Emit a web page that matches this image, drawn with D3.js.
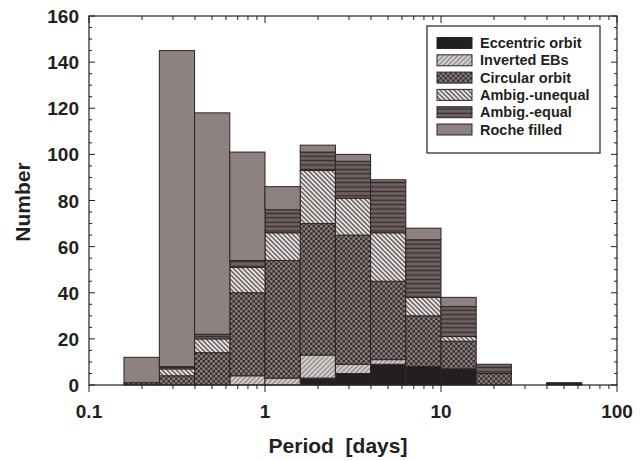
<!DOCTYPE html>
<html>
<head>
<meta charset="utf-8">
<script src="https://cdn.jsdelivr.net/npm/d3@7"></script>
<style>
  body { margin: 0; background: #fff; }
  text { font-family: "Liberation Sans", Arial, Helvetica, sans-serif; font-weight: bold; fill: #231f20; white-space: pre; }
</style>
</head>
<body>
<svg id="chart" width="642" height="461"></svg>
<script>
// period bins [days], 0.2 dex wide
var binLo = [0.158, 0.251, 0.398, 0.631, 1.0, 1.585, 2.512, 3.981, 6.310, 10.0, 15.85, 25.12, 39.81];
var binHi = [0.251, 0.398, 0.631, 1.0, 1.585, 2.512, 3.981, 6.310, 10.0, 15.85, 25.12, 39.81, 63.10];

// counts per bin, stacked bottom -> top
var eccentric    = [0, 0, 0, 0, 0, 3, 5, 9, 8, 7, 0, 0, 1];
var inverted     = [0, 0, 0, 4, 3, 10, 4, 2, 0, 0, 0, 0, 0];
var circular     = [1, 4, 14, 36, 51, 57, 56, 34, 22, 12, 5, 0, 0];
var ambigUnequal = [0, 3, 6, 11, 12, 23, 16, 21, 8, 2, 0, 0, 0];
var ambigEqual   = [0, 1, 2, 3, 10, 8, 16, 22, 25, 13, 4, 0, 0];
var rocheFilled  = [11, 137, 96, 47, 10, 3, 3, 1, 5, 4, 0, 0, 0];

var seriesKeys  = ['ecc', 'inv', 'circ', 'uneq', 'eq', 'roche'];
var seriesNames = ['Eccentric orbit', 'Inverted EBs', 'Circular orbit', 'Ambig.-unequal', 'Ambig.-equal', 'Roche filled'];

var xTickVals = [0.1, 1, 10, 100];
var xTickLabels = ['0.1', '1', '10', '100'];
var yTickVals = [0, 20, 40, 60, 80, 100, 120, 140, 160];

var svg = d3.select('#chart');
var mLeft = 89, mRight = 617, mTop = 16, mBottom = 385;

var x = d3.scaleLog().domain([0.1, 100]).range([mLeft, mRight]);
var y = d3.scaleLinear().domain([0, 160]).range([mBottom, mTop]);

// patterns
var defs = svg.append('defs');
function hatch(id, bg, col, w, gap, angle) {
  var p = defs.append('pattern').attr('id', id).attr('patternUnits', 'userSpaceOnUse')
    .attr('width', gap).attr('height', gap).attr('patternTransform', 'rotate(' + angle + ')');
  p.append('rect').attr('width', gap).attr('height', gap).attr('fill', bg);
  p.append('line').attr('x1', gap / 2).attr('x2', gap / 2).attr('y1', 0).attr('y2', gap)
    .attr('stroke', col).attr('stroke-width', w);
}
hatch('p-inv', '#d6d2d0', '#8c8482', 1.3, 3.4, 45);
hatch('p-uneq', '#ebe8e6', '#453b3d', 1.2, 3.3, -45);
hatch('p-eq', '#6f6162', '#342b2c', 1.3, 4.4, 90);

var chk = defs.append('pattern').attr('id', 'p-circ').attr('patternUnits', 'userSpaceOnUse')
  .attr('width', 5).attr('height', 5);
chk.append('rect').attr('width', 5).attr('height', 5).attr('fill', '#3a3133');
chk.append('rect').attr('width', 2.5).attr('height', 2.5).attr('fill', '#8a7e7c');
chk.append('rect').attr('x', 2.5).attr('y', 2.5).attr('width', 2.5).attr('height', 2.5).attr('fill', '#8a7e7c');

var fills = {
  ecc: '#231f20', inv: 'url(#p-inv)', circ: 'url(#p-circ)',
  uneq: 'url(#p-uneq)', eq: 'url(#p-eq)', roche: '#8d827f'
};

var rows = binLo.map(function(lo, i) {
  return { lo: lo, hi: binHi[i], ecc: eccentric[i], inv: inverted[i], circ: circular[i],
    uneq: ambigUnequal[i], eq: ambigEqual[i], roche: rocheFilled[i] };
});
var stacked = d3.stack().keys(seriesKeys)(rows);

var layers = svg.append('g').selectAll('g').data(stacked).join('g')
  .attr('fill', function(d) { return fills[d.key]; });
layers.selectAll('rect')
  .data(function(d) { return d.filter(function(s) { return s[1] > s[0]; }); })
  .join('rect')
  .attr('x', function(d) { return x(d.data.lo); })
  .attr('width', function(d) { return x(d.data.hi) - x(d.data.lo); })
  .attr('y', function(d) { return y(d[1]); })
  .attr('height', function(d) { return y(d[0]) - y(d[1]); })
  .attr('stroke', '#2b2526').attr('stroke-width', 1);

// frame
svg.append('rect').attr('x', mLeft).attr('y', mTop).attr('width', mRight - mLeft).attr('height', mBottom - mTop)
  .attr('fill', 'none').attr('stroke', '#231f20').attr('stroke-width', 1.2);

// x ticks (log minor)
var xMinor = [];
[0.1, 1, 10].forEach(function(d) { for (var k = 2; k <= 9; k++) xMinor.push(d * k); });
var tg = svg.append('g').attr('stroke', '#231f20').attr('stroke-width', 1);
xMinor.forEach(function(v) {
  tg.append('line').attr('x1', x(v)).attr('x2', x(v)).attr('y1', mBottom).attr('y2', mBottom + 4);
  tg.append('line').attr('x1', x(v)).attr('x2', x(v)).attr('y1', mTop).attr('y2', mTop + 4);
});
xTickVals.forEach(function(v) {
  tg.append('line').attr('x1', x(v)).attr('x2', x(v)).attr('y1', mBottom).attr('y2', mBottom + 7);
  tg.append('line').attr('x1', x(v)).attr('x2', x(v)).attr('y1', mTop).attr('y2', mTop + 7);
});
// y ticks (minor every 5)
d3.range(0, 161, 5).forEach(function(v) {
  var len = v % 20 === 0 ? 6 : 3;
  tg.append('line').attr('x1', mLeft).attr('x2', mLeft + len).attr('y1', y(v)).attr('y2', y(v));
  tg.append('line').attr('x1', mRight).attr('x2', mRight - len).attr('y1', y(v)).attr('y2', y(v));
});

// tick labels
svg.append('g').selectAll('text').data(xTickVals).join('text')
  .attr('x', function(d) { return x(d); }).attr('y', 418)
  .attr('text-anchor', 'middle').attr('font-size', 19)
  .text(function(d, i) { return xTickLabels[i]; });
svg.append('g').selectAll('text').data(yTickVals).join('text')
  .attr('x', 79).attr('y', function(d) { return y(d) + 7; })
  .attr('text-anchor', 'end').attr('font-size', 19)
  .text(function(d) { return d; });

// axis titles
svg.append('text').attr('x', 338).attr('y', 453).attr('text-anchor', 'middle')
  .attr('font-size', 21).text('Period  [days]');
svg.append('text').attr('transform', 'translate(30,202) rotate(-90)').attr('text-anchor', 'middle')
  .attr('font-size', 21).text('Number');

// legend
var lg = svg.append('g');
lg.append('rect').attr('x', 427).attr('y', 26).attr('width', 173).attr('height', 127)
  .attr('fill', '#fff').attr('stroke', '#231f20').attr('stroke-width', 1.2);
var items = lg.selectAll('g.item').data(seriesKeys).join('g').attr('class', 'item')
  .attr('transform', function(d, i) { return 'translate(437,' + (37.5 + i * 17.3) + ')'; });
items.append('rect').attr('width', 35).attr('height', 11)
  .attr('fill', function(d) { return fills[d]; }).attr('stroke', '#2b2526').attr('stroke-width', 1);
items.append('text').attr('x', 43).attr('y', 10.5).attr('font-size', 14.5)
  .text(function(d, i) { return seriesNames[i]; });
</script>
</body>
</html>
